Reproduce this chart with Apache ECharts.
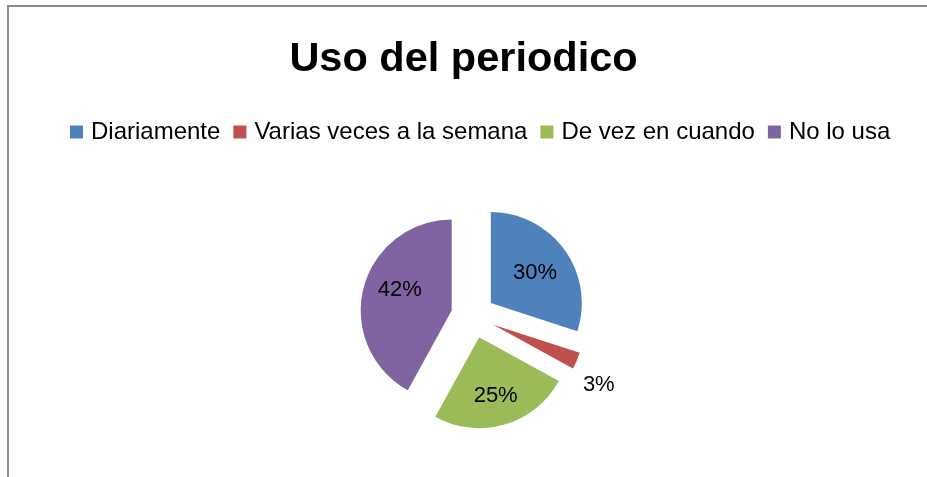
<!DOCTYPE html>
<html>
<head>
<meta charset="utf-8">
<script src="https://cdn.jsdelivr.net/npm/echarts@6/dist/echarts.min.js"></script>
<style>html,body{margin:0;padding:0;background:#fff}#c{width:927px;height:477px}</style>
</head>
<body>
<div id="c"></div>
<script>
var categories = ['Diariamente', 'Varias veces a la semana', 'De vez en cuando', 'No lo usa'];
var values = [30, 3, 25, 42];
var colors = ['#4F81BD', '#C0504D', '#9BBB59', '#8064A2'];
var labelShift = [[5, -2], [-8, 20], [3, 12], [-5, -9]];

var chart = echarts.init(document.getElementById('c'));
var font = '"Liberation Sans", Arial, sans-serif';
chart.setOption({
  animation: false,
  color: colors,
  graphic: [{
    type: 'rect', silent: true, z: -1,
    shape: { x: 8, y: 6, width: 1200, height: 1200 },
    style: { fill: 'none', stroke: '#8c8c8c', lineWidth: 2 }
  }],
  title: {
    text: 'Uso del periodico', left: 'center', top: 34,
    textStyle: { fontFamily: font, fontSize: 41.5, fontWeight: 'bold', color: '#000' }
  },
  legend: {
    data: categories, top: 115, left: 65,
    icon: 'rect', itemWidth: 13, itemHeight: 13, itemGap: 13,
    selectedMode: false,
    textStyle: { fontFamily: font, fontSize: 24, color: '#000', padding: [0, 0, 0, 3] }
  },
  series: [{
    type: 'pie',
    center: [473, 316],
    radius: 91,
    startAngle: 90,
    clockwise: true,
    selectedMode: 'multiple',
    selectedOffset: 22,
    avoidLabelOverlap: false,
    emphasis: { disabled: true },
    itemStyle: { borderWidth: 0 },
    label: {
      show: true, position: 'inside', formatter: '{d}%',
      fontFamily: font, fontSize: 22, color: '#000'
    },
    labelLine: { show: false },
    labelLayout: function (p) {
      var s = labelShift[p.dataIndex];
      return { dx: s[0], dy: s[1] };
    },
    data: categories.map(function (c, i) {
      var item = { name: c, value: values[i], selected: true };
      if (i === 1) {
        item.label = { position: 'outside' };
        item.labelLine = { show: false, length: 10, length2: 0 };
      }
      return item;
    })
  }]
});
</script>
</body>
</html>
